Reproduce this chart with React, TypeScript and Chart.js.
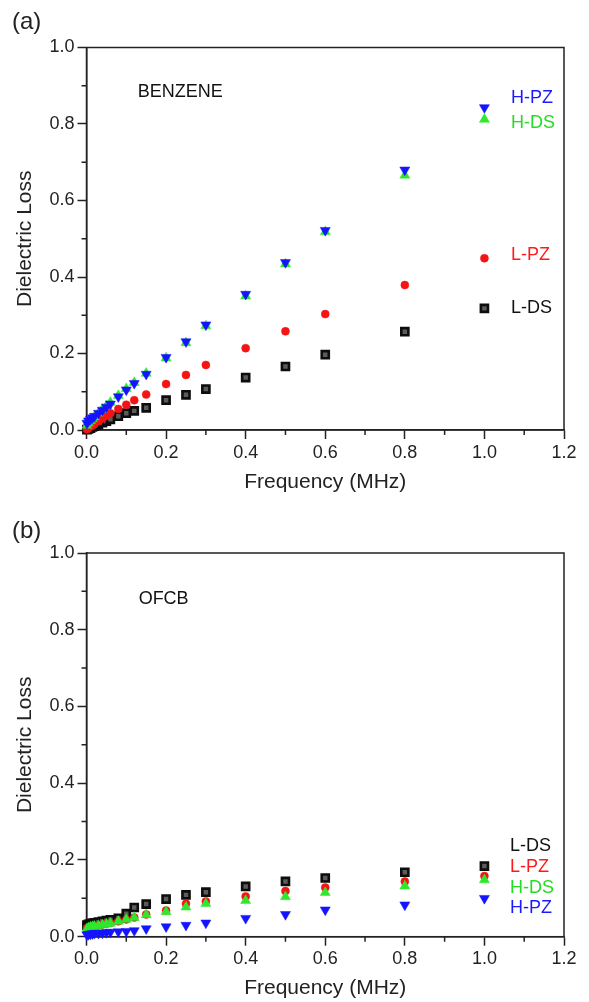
import React, { useEffect, useRef } from "react";
import { Chart, registerables } from "chart.js";

Chart.register(...registerables);

// ---------- data ----------
const freq = [0.001, 0.005, 0.01, 0.015, 0.02, 0.03, 0.04, 0.05, 0.06, 0.08, 0.1, 0.12, 0.15, 0.2, 0.25, 0.3, 0.4, 0.5, 0.6, 0.8, 1.0];

// Panel (a) BENZENE
const benzeneHPZ = [0.018, 0.024, 0.028, 0.032, 0.036, 0.044, 0.052, 0.06, 0.068, 0.087, 0.105, 0.122, 0.146, 0.19, 0.231, 0.275, 0.355, 0.438, 0.522, 0.68, 0.843];
const benzeneHDS = [0.012, 0.018, 0.024, 0.029, 0.034, 0.044, 0.054, 0.063, 0.072, 0.09, 0.108, 0.124, 0.148, 0.188, 0.228, 0.272, 0.35, 0.434, 0.518, 0.666, 0.812];
const benzeneLPZ = [0.002, 0.005, 0.009, 0.012, 0.016, 0.023, 0.03, 0.037, 0.044, 0.055, 0.066, 0.078, 0.093, 0.12, 0.144, 0.17, 0.214, 0.258, 0.303, 0.379, 0.449];
const benzeneLDS = [0.001, 0.003, 0.005, 0.008, 0.01, 0.014, 0.019, 0.023, 0.028, 0.036, 0.044, 0.05, 0.058, 0.078, 0.092, 0.107, 0.137, 0.166, 0.197, 0.257, 0.318];

// Panel (b) OFCB
const ofcbLDS = [0.03, 0.032, 0.034, 0.035, 0.036, 0.038, 0.04, 0.042, 0.044, 0.048, 0.06, 0.076, 0.085, 0.098, 0.109, 0.116, 0.131, 0.144, 0.153, 0.168, 0.184];
const ofcbLPZ = [0.022, 0.024, 0.026, 0.027, 0.028, 0.03, 0.032, 0.034, 0.036, 0.04, 0.045, 0.05, 0.058, 0.068, 0.086, 0.092, 0.105, 0.119, 0.128, 0.144, 0.158];
const ofcbHDS = [0.02, 0.023, 0.025, 0.026, 0.027, 0.029, 0.031, 0.033, 0.035, 0.04, 0.045, 0.05, 0.057, 0.065, 0.077, 0.086, 0.094, 0.104, 0.115, 0.132, 0.148];
const ofcbHPZ = [0.005, 0.006, 0.007, 0.008, 0.009, 0.009, 0.01, 0.011, 0.012, 0.013, 0.014, 0.016, 0.021, 0.026, 0.03, 0.036, 0.048, 0.058, 0.07, 0.083, 0.1];

// axes
const xMin = 0;
const xMax = 1.2;
const xStep = 0.2;
const yMin = 0;
const yMax = 1.0;
const yStep = 0.2;
const xMinorTicks = [0.1, 0.3, 0.5, 0.7, 0.9, 1.1];
const yMinorTicks = [0.1, 0.3, 0.5, 0.7, 0.9];

const xTitle = "Frequency (MHz)";
const yTitle = "Dielectric Loss";

// text labels placed in data coordinates
const benzeneLabels = [
  { text: "BENZENE", x: 0.129, y: 0.884, color: "#111111" },
  { text: "H-PZ", x: 1.067, y: 0.869, color: "#1a1aff" },
  { text: "H-DS", x: 1.067, y: 0.803, color: "#22dd22" },
  { text: "L-PZ", x: 1.067, y: 0.458, color: "#ff1a1a" },
  { text: "L-DS", x: 1.067, y: 0.319, color: "#111111" },
];
const ofcbLabels = [
  { text: "OFCB", x: 0.131, y: 0.879, color: "#111111" },
  { text: "L-DS", x: 1.064, y: 0.237, color: "#111111" },
  { text: "L-PZ", x: 1.064, y: 0.181, color: "#ff1a1a" },
  { text: "H-DS", x: 1.064, y: 0.126, color: "#22dd22" },
  { text: "H-PZ", x: 1.064, y: 0.076, color: "#1a1aff" },
];

const FONT = '"Liberation Sans", Arial, Helvetica, sans-serif';
const AXIS = "#222222";

type Ann = { text: string; x: number; y: number; color: string };

const toPts = (vals: number[]) => freq.map((f, i) => ({ x: f, y: vals[i] }));

function datasets(hpz: number[], hds: number[], lpz: number[], lds: number[]) {
  // first dataset is drawn on top
  return [
    {
      label: "H-PZ",
      data: toPts(hpz),
      pointStyle: "triangle",
      rotation: 180,
      pointRadius: 5.8,
      backgroundColor: "#1414ff",
      borderColor: "#1414ff",
      borderWidth: 0.5,
      clip: false as any,
    },
    {
      label: "H-DS",
      data: toPts(hds),
      pointStyle: "triangle",
      pointRadius: 5.8,
      backgroundColor: "#2ee82e",
      borderColor: "#2ee82e",
      borderWidth: 0.5,
      clip: false as any,
    },
    {
      label: "L-PZ",
      data: toPts(lpz),
      pointStyle: "circle",
      pointRadius: 4,
      backgroundColor: "#f41414",
      borderColor: "#f41414",
      borderWidth: 0.5,
      clip: false as any,
    },
    {
      label: "L-DS",
      data: toPts(lds),
      pointStyle: "rect",
      pointRadius: 5,
      backgroundColor: "#5c5c5c",
      borderColor: "#0d0d0d",
      borderWidth: 2.6,
      clip: false as any,
    },
  ];
}

const framePlugin = {
  id: "frameAndMinor",
  beforeDatasetsDraw(chart: any) {
    const { ctx, chartArea: a, scales } = chart;
    ctx.save();
    ctx.strokeStyle = AXIS;
    ctx.lineWidth = 1.5;
    ctx.strokeRect(a.left, a.top, a.right - a.left, a.bottom - a.top);
    ctx.beginPath();
    xMinorTicks.forEach((v) => {
      const px = scales.x.getPixelForValue(v);
      ctx.moveTo(px, a.bottom);
      ctx.lineTo(px, a.bottom + 5);
    });
    yMinorTicks.forEach((v) => {
      const py = scales.y.getPixelForValue(v);
      ctx.moveTo(a.left, py);
      ctx.lineTo(a.left - 5, py);
    });
    ctx.stroke();
    ctx.restore();
  },
  afterDraw(chart: any) {
    const anns: Ann[] = chart.options.plugins.textLabels?.items || [];
    const { ctx, scales } = chart;
    ctx.save();
    ctx.font = `18px ${FONT}`;
    ctx.textAlign = "left";
    ctx.textBaseline = "middle";
    anns.forEach((t) => {
      ctx.fillStyle = t.color;
      ctx.fillText(t.text, scales.x.getPixelForValue(t.x), scales.y.getPixelForValue(t.y));
    });
    ctx.restore();
  },
};

function makeOptions(top: number, xHeight: number, titlePadBottom: number, anns: Ann[]) {
  return {
    responsive: false,
    animation: false as const,
    events: [] as any[],
    layout: { padding: { top, right: 25, left: 0, bottom: 0 } },
    plugins: {
      legend: { display: false },
      tooltip: { enabled: false },
      textLabels: { items: anns },
    },
    scales: {
      x: {
        type: "linear" as const,
        min: xMin,
        max: xMax,
        afterFit: (s: any) => {
          s.height = xHeight;
        },
        ticks: {
          stepSize: xStep,
          color: AXIS,
          padding: 3,
          font: { family: FONT, size: 18 },
          callback: (v: any) => Number(v).toFixed(1),
          maxRotation: 0,
          autoSkip: false,
        },
        grid: {
          drawOnChartArea: false,
          drawTicks: true,
          tickLength: 9,
          tickColor: AXIS,
          tickWidth: 1.5,
        },
        border: { display: true, color: AXIS, width: 1.5 },
        title: {
          display: true,
          text: xTitle,
          color: AXIS,
          font: { family: FONT, size: 21 },
          padding: { top: 0, bottom: titlePadBottom },
        },
      },
      y: {
        type: "linear" as const,
        min: yMin,
        max: yMax,
        afterFit: (s: any) => {
          s.width = 86.5;
        },
        ticks: {
          stepSize: yStep,
          color: AXIS,
          padding: 3,
          font: { family: FONT, size: 18 },
          callback: (v: any) => Number(v).toFixed(1),
        },
        grid: {
          drawOnChartArea: false,
          drawTicks: true,
          tickLength: 9,
          tickColor: AXIS,
          tickWidth: 1.5,
        },
        border: { display: true, color: AXIS, width: 1.5 },
        title: {
          display: true,
          text: yTitle,
          color: AXIS,
          font: { family: FONT, size: 21 },
          padding: { top: 13, bottom: 0 },
        },
      },
    },
  };
}

function Panel(props: {
  tag: string;
  tagTop: number;
  top: number;
  xHeight: number;
  titlePadBottom: number;
  series: number[][];
  labels: Ann[];
}) {
  const ref = useRef<HTMLCanvasElement | null>(null);
  useEffect(() => {
    if (!ref.current) return;
    const [a, b, c, d] = props.series;
    const chart = new Chart(ref.current, {
      type: "scatter",
      data: { datasets: datasets(a, b, c, d) as any },
      options: makeOptions(props.top, props.xHeight, props.titlePadBottom, props.labels) as any,
      plugins: [framePlugin as any],
    });
    return () => chart.destroy();
  }, []);
  return (
    <div style={{ position: "relative", width: 589, height: 501 }}>
      <canvas ref={ref} width={589} height={501} style={{ display: "block" }} />
      <div
        style={{
          position: "absolute",
          left: 12,
          top: props.tagTop,
          fontFamily: FONT,
          fontSize: 24,
          lineHeight: "24px",
          color: "#222",
        }}
      >
        {props.tag}
      </div>
    </div>
  );
}

export default function App() {
  return (
    <div style={{ position: "absolute", left: 0, top: 0, width: 589, height: 1002, background: "#fff" }}>
      <Panel
        tag="(a)"
        tagTop={9}
        top={47.5}
        xHeight={71}
        titlePadBottom={6.4}
        series={[benzeneHPZ, benzeneHDS, benzeneLPZ, benzeneLDS]}
        labels={benzeneLabels}
      />
      <Panel
        tag="(b)"
        tagTop={17}
        top={52}
        xHeight={65.3}
        titlePadBottom={0.8}
        series={[ofcbHPZ, ofcbHDS, ofcbLPZ, ofcbLDS]}
        labels={ofcbLabels}
      />
    </div>
  );
}
